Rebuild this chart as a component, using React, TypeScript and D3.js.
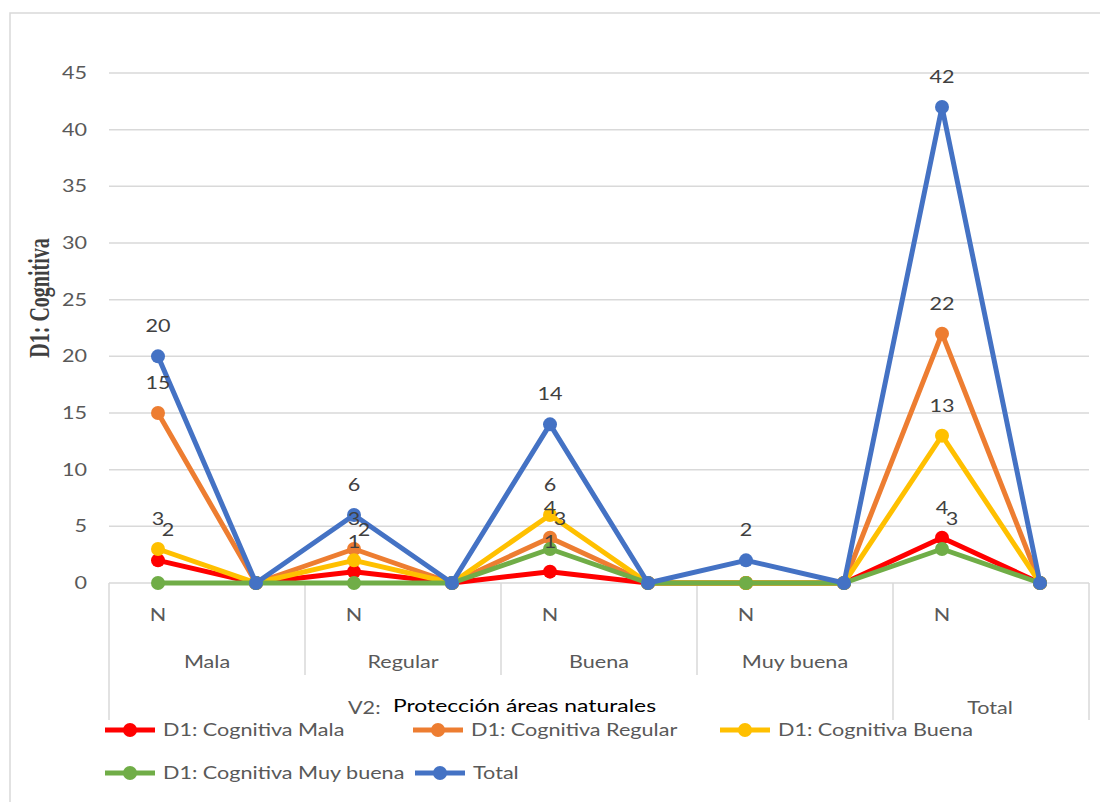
import React from "react";
import * as d3 from "d3";

const xLabels = ["N", "", "N", "", "N", "", "N", "", "N", ""];
const groups = ["Mala", "Regular", "Buena", "Muy buena", "Total"];
const seriesNames = [
  "D1: Cognitiva Mala",
  "D1: Cognitiva Regular",
  "D1: Cognitiva Buena",
  "D1: Cognitiva Muy buena",
  "Total",
];
const mala = [2, 0, 1, 0, 1, 0, 0, 0, 4, 0];
const regular = [15, 0, 3, 0, 4, 0, 0, 0, 22, 0];
const buena = [3, 0, 2, 0, 6, 0, 0, 0, 13, 0];
const muyBuena = [0, 0, 0, 0, 3, 0, 0, 0, 3, 0];
const total = [20, 0, 6, 0, 14, 0, 2, 0, 42, 0];
const yTicks = [0, 5, 10, 15, 20, 25, 30, 35, 40, 45];
const colors = ["#FF0000", "#ED7D31", "#FFC000", "#70AD47", "#4472C4"];

// label offsets (dx) to avoid overlaps, per series and point index
const labelDx: Record<string, number> = {
  "0-0": 10, "0-2": 0, "2-2": 10,
  "3-4": 10, "3-8": 10,
};

const font = "Lato, 'Open Sans', sans-serif";
const SX = 1.27;

function T(props: { x: number; y: number; anchor?: string; size?: number; fill?: string; children: React.ReactNode }) {
  const { x, y, anchor = "start", size = 17, fill = "#595959", children } = props;
  return (
    <text transform={`translate(${x},${y}) scale(${SX},1)`} textAnchor={anchor} fontFamily={font} fontSize={size} fill={fill}>
      {children}
    </text>
  );
}

export default function App() {
  const all = [mala, regular, buena, muyBuena, total];
  const left = 109, right = 1089, top = 73, bottom = 583;
  const x = d3.scaleBand<number>().domain(d3.range(10)).range([left, right]);
  const y = d3.scaleLinear().domain([0, 45]).range([bottom, top]);
  const cx = (i: number) => x(i)! + x.bandwidth() / 2;
  const line = d3.line<number>().x((_, i) => cx(i)).y((d) => y(d));
  const grey = "#595959";
  const gridColor = "#d9d9d9";

  const legendItems = [
    { i: 0, x: 105, y: 730 },
    { i: 1, x: 413, y: 730 },
    { i: 2, x: 720, y: 730 },
    { i: 3, x: 105, y: 773 },
    { i: 4, x: 415, y: 773 },
  ];

  return (
    <svg width={1100} height={802} style={{ position: "absolute", left: 0, top: 0 }}>
      <rect x={0} y={0} width={1100} height={802} fill="#fff" />
      <rect x={10} y={13} width={1100} height={800} fill="none" stroke={gridColor} strokeWidth={1.5} />
      {yTicks.map((t) => (
        <g key={t}>
          {t > 0 && <line x1={left} x2={right} y1={y(t)} y2={y(t)} stroke={gridColor} strokeWidth={1.5} />}
          <T x={87} y={y(t) + 6} anchor="end">{t}</T>
        </g>
      ))}
      <line x1={left} x2={right} y1={bottom} y2={bottom} stroke={gridColor} strokeWidth={1.5} />
      {[0, 2, 4, 6, 8, 10].map((k) => {
        const xx = k === 10 ? right : x(k)!;
        const long = k === 0 || k === 8 || k === 10;
        return <line key={k} x1={xx} x2={xx} y1={bottom} y2={long ? 720 : 675} stroke={gridColor} strokeWidth={1.5} />;
      })}
      {xLabels.map((l, i) => (
        l ? <T key={i} x={cx(i)} y={621} anchor="middle">{l}</T> : null
      ))}
      {groups.slice(0, 4).map((g, k) => (
        <T key={g} x={x(k * 2)! + x.bandwidth()} y={668} anchor="middle">{g}</T>
      ))}
      <T x={990} y={714} anchor="middle">{groups[4]}</T>
      <T x={348} y={714}>V2:</T>
      <T x={393} y={712} size={18} fill="#000">Protección áreas naturales</T>
      <text transform={`translate(49,298) scale(1.45,1) rotate(-90)`} textAnchor="middle" fontFamily="'Liberation Serif', 'DejaVu Serif', serif" fontWeight="bold" fontSize={20} fill="#404040">D1: Cognitiva</text>
      {all.map((s, si) => (
        <g key={si}>
          <path d={line(s)!} fill="none" stroke={colors[si]} strokeWidth={5} strokeLinejoin="round" />
          {s.map((v, i) => (
            <circle key={i} cx={cx(i)} cy={y(v)} r={7} fill={colors[si]} />
          ))}
        </g>
      ))}
      {all.map((s, si) =>
        s.map((v, i) =>
          i % 2 === 0 && v > 0 ? (
            <T key={`${si}-${i}`} x={cx(i) + (labelDx[`${si}-${i}`] ?? 0)} y={y(v) - 24} anchor="middle" fill="#404040">{v}</T>
          ) : null
        )
      )}
      {legendItems.map(({ i, x: lx, y: ly }) => (
        <g key={i}>
          <line x1={lx} x2={lx + 50} y1={ly} y2={ly} stroke={colors[i]} strokeWidth={5} />
          <circle cx={lx + 25} cy={ly} r={7} fill={colors[i]} />
          <T x={lx + 58} y={ly + 6}>{seriesNames[i]}</T>
        </g>
      ))}
    </svg>
  );
}
